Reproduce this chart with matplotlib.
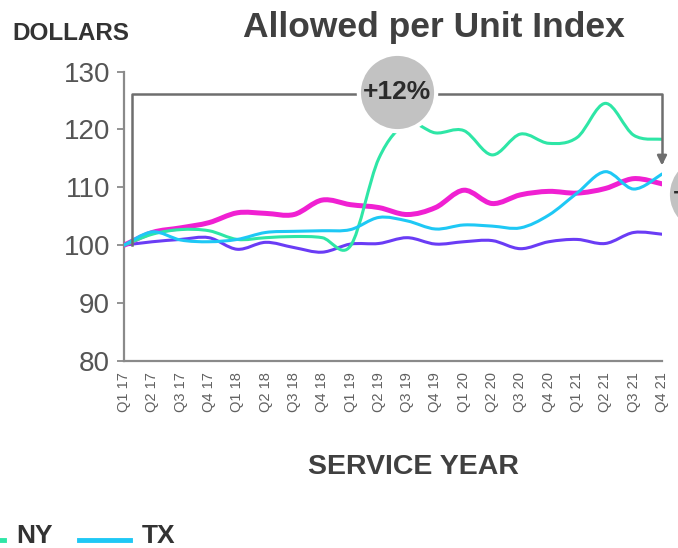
import numpy as np
import matplotlib
matplotlib.use('Agg')
import matplotlib.pyplot as plt
from matplotlib.path import Path
from matplotlib.patches import PathPatch
from matplotlib.lines import Line2D

plt.rcParams['font.family'] = ['Liberation Sans', 'DejaVu Sans']

quarters = ['Q1 17', 'Q2 17', 'Q3 17', 'Q4 17', 'Q1 18', 'Q2 18', 'Q3 18', 'Q4 18',
            'Q1 19', 'Q2 19', 'Q3 19', 'Q4 19', 'Q1 20', 'Q2 20', 'Q3 20', 'Q4 20',
            'Q1 21', 'Q2 21', 'Q3 21', 'Q4 21']
ny = [100, 101.9, 102.7, 102.5, 101.0, 101.3, 101.5, 101.3, 99.9, 115.0,
      121.0, 119.4, 119.8, 115.6, 119.2, 117.6, 118.6, 124.5, 119.0, 118.3]
tx = [100, 102.3, 100.9, 100.6, 101.0, 102.2, 102.4, 102.5, 102.7, 104.8,
      104.2, 102.8, 103.5, 103.3, 103.0, 105.2, 109.0, 112.7, 109.7, 112.3]
magenta = [100, 102.2, 103.0, 103.9, 105.6, 105.5, 105.3, 107.8, 107.0, 106.5,
           105.3, 106.5, 109.5, 107.2, 108.7, 109.3, 109.0, 109.8, 111.5, 110.6]
purple = [100, 100.6, 101.0, 101.3, 99.3, 100.5, 99.6, 98.8, 100.2, 100.3,
          101.3, 100.2, 100.6, 100.8, 99.4, 100.6, 101.0, 100.3, 102.2, 101.9]
yticks = [80, 90, 100, 110, 120, 130]


def smooth_path(xs, ys):
    # excel-like smoothed line as cubic bezier through the data points
    p = np.column_stack([xs, ys]).astype(float)
    n = len(p)
    verts = [p[0]]
    codes = [Path.MOVETO]
    for i in range(n - 1):
        p0 = p[i - 1] if i > 0 else p[i]
        p3 = p[i + 2] if i + 2 < n else p[i + 1]
        c1 = p[i] + (p[i + 1] - p0) / 6
        c2 = p[i + 1] - (p3 - p[i]) / 6
        verts += [c1, c2, p[i + 1]]
        codes += [Path.CURVE4] * 3
    return Path(verts, codes)


fig = plt.figure(figsize=(6.78, 5.48), dpi=100)
ax = fig.add_axes([0.1829, 0.3412, 0.7935, 0.5283])
x = np.arange(len(quarters))

series = [(purple, '#6a3cf5', 2.2), (magenta, '#f020d2', 3.6),
          (ny, '#2ee6a6', 2.2), (tx, '#1ec8f5', 2.2)]
for vals, col, lw in series:
    ax.add_patch(PathPatch(smooth_path(x, vals), fill=False, edgecolor=col,
                           lw=lw, capstyle='round', joinstyle='round', zorder=3))

ax.set_xlim(0, 19)
ax.set_ylim(80, 130)
ax.set_yticks(yticks)
ax.set_xticks(x)
ax.set_xticklabels(quarters, rotation=90, fontsize=10.5, color='#606060')
ax.tick_params(axis='x', length=0, pad=8)
ax.tick_params(axis='y', length=5, width=1.2, color='#808080', pad=5,
               labelsize=20, labelcolor='#555555')
for s in ['top', 'right']:
    ax.spines[s].set_visible(False)
for s in ['left', 'bottom']:
    ax.spines[s].set_color('#8a8a8a')
    ax.spines[s].set_linewidth(1.6)

# bracket with arrow
bk = '#6e6e6e'
ax.plot([0.28, 0.28, 19, 19], [100, 126.2, 126.2, 114.6], color=bk, lw=1.8,
        clip_on=False, zorder=4)
ax.annotate('', xy=(19, 113.3), xytext=(19, 115.5),
            arrowprops=dict(arrowstyle='-|>', color=bk, lw=1.8, mutation_scale=14),
            annotation_clip=False, zorder=4)

# circles
for cx, cy, lab in [(9.65, 126.5, '+12%'), (20.55, 108.8, '+11%')]:
    ax.scatter([cx], [cy], s=3100, color='#c2c2c2', edgecolors='white',
               linewidths=3, clip_on=False, zorder=5)
    ax.text(cx, cy, lab, ha='center', va='center', fontsize=19,
            fontweight='bold', color='#2b2b2b', zorder=6, clip_on=False)

fig.text(434 / 678, 1 - 27 / 548, 'Allowed per Unit Index', ha='center',
         va='center', fontsize=25.5, fontweight='bold', color='#404040')
fig.text(12 / 678, 1 - 33 / 548, 'DOLLARS', ha='left', va='center',
         fontsize=17.5, fontweight='bold', color='#333333')
fig.text(413 / 678, 1 - 467 / 548, 'SERVICE YEAR', ha='center', va='center',
         fontsize=20.5, fontweight='bold', color='#404040')

# legend (partly cut off at the left edge)
ly = 1 - 540 / 548
fig.add_artist(Line2D([-30 / 678, 4 / 678], [ly, ly], color='#2ee6a6', lw=3.5))
fig.text(16 / 678, 1 - 536 / 548, 'NY', ha='left', va='center', fontsize=19,
         fontweight='bold', color='#333333')
fig.add_artist(Line2D([79 / 678, 130 / 678], [ly, ly], color='#1ec8f5', lw=3.5))
fig.text(142 / 678, 1 - 536 / 548, 'TX', ha='left', va='center', fontsize=19,
         fontweight='bold', color='#333333')

fig.savefig('out.png', dpi=100)
